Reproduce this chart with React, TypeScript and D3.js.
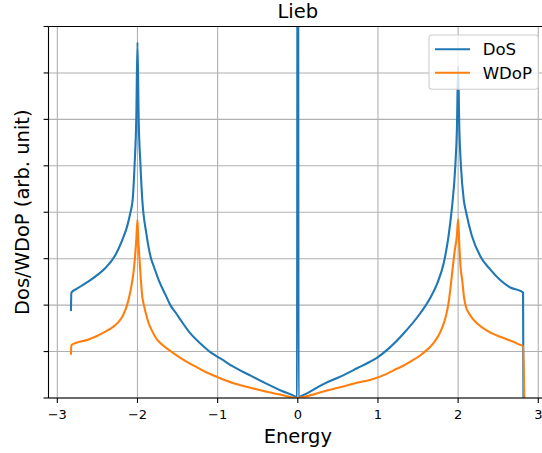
import React from "react";
import * as d3 from "d3";

// ---- data ----
const dosEnergy = [
  -2.83, -2.825, -2.75, -2.61, -2.5, -2.4, -2.275, -2.19, -2.13, -2.09, -2.06, -2.035, -2.015, -2.0,
  -1.985, -1.964, -1.94, -1.89, -1.83, -1.8, -1.735, -1.65, -1.59, -1.52, -1.45, -1.34, -1.2, -1.1, -1.03,
  -0.9, -0.82, -0.61, -0.405, -0.197, -0.03, -0.01, 0.0, 0.01, 0.03, 0.115, 0.32, 0.53, 0.74, 0.9, 1.0,
  1.11, 1.32, 1.53, 1.65, 1.74, 1.82, 1.88, 1.92, 1.965, 1.985, 2.0, 2.015, 2.035, 2.07, 2.1, 2.17,
  2.275, 2.4, 2.525, 2.65, 2.795, 2.81, 2.815,
];
const dosValue = [
  1.875, 2.27, 2.36, 2.51, 2.65, 2.8, 3.08, 3.4, 3.69, 3.98, 4.27, 5.06, 6.0, 7.66,
  6.0, 5.06, 4.27, 3.55, 3.0, 2.85, 2.54, 2.22, 2.0, 1.83, 1.65, 1.39, 1.15, 1.0, 0.92,
  0.78, 0.69, 0.5, 0.32, 0.15, 0.03, 0.01, 20, 0.01, 0.03, 0.1, 0.3, 0.46, 0.64, 0.78, 0.88,
  1.03, 1.39, 1.83, 2.15, 2.47, 2.9, 3.48, 4.05, 5.0, 5.8, 7.14, 5.8, 5.0, 4.27, 4.0, 3.5,
  3.06, 2.77, 2.54, 2.38, 2.29, 2.27, 0,
];
const wdopEnergy = [
  -2.83, -2.825, -2.61, -2.5, -2.4, -2.33, -2.275, -2.23, -2.19, -2.16, -2.13, -2.1, -2.07, -2.05,
  -2.03, -2.015, -2.0, -1.99, -1.975, -1.94, -1.92, -1.9, -1.86, -1.82, -1.76, -1.68, -1.57, -1.45,
  -1.28, -1.15, -1.0, -0.82, -0.61, -0.405, -0.197, 0.0, 0.115, 0.32, 0.53, 0.74, 0.9, 1.11, 1.2,
  1.32, 1.42, 1.53, 1.6, 1.65, 1.7, 1.74, 1.78, 1.82, 1.85, 1.88, 1.9, 1.92, 1.96, 1.985, 2.0, 2.015,
  2.03, 2.05, 2.075, 2.1, 2.13, 2.18, 2.235, 2.36, 2.45, 2.525, 2.6, 2.69, 2.75, 2.81, 2.825,
];
const wdopValue = [
  0.93, 1.14, 1.26, 1.34, 1.43, 1.5, 1.57, 1.65, 1.75, 1.86, 2.0, 2.2, 2.47, 2.7,
  3.05, 3.4, 3.84, 3.4, 3.0, 2.18, 2.0, 1.85, 1.61, 1.45, 1.27, 1.13, 0.99, 0.85,
  0.68, 0.56, 0.45, 0.33, 0.23, 0.14, 0.065, 0.0, 0.04, 0.14, 0.23, 0.33, 0.39, 0.52, 0.6,
  0.7, 0.8, 0.92, 1.02, 1.1, 1.2, 1.3, 1.43, 1.6, 1.78, 2.04, 2.3, 2.61, 3.2, 3.5, 3.85, 3.3,
  2.83, 2.55, 2.15, 1.95, 1.84, 1.71, 1.61, 1.45, 1.37, 1.32, 1.27, 1.21, 1.16, 1.12, 0,
];
const xTicks = [-3, -2, -1, 0, 1, 2, 3];
const yTicks = [0, 1, 2, 3, 4, 5, 6, 7, 8];
const seriesNames = ["DoS", "WDoP"];
const seriesColors = ["#1f77b4", "#ff7f0e"];
const titleText = "Lieb";
const xLabel = "Energy";
const yLabel = "Dos/WDoP (arb. unit)";

const W = 542;
const H = 453;
const left = 48.5;
const right = 547.1;
const top = 26.5;
const bottom = 398;
const font = "DejaVu Sans, sans-serif";

export default function App() {
  const x = d3.scaleLinear().domain([-3.11, 3.11]).range([left, right]);
  const y = d3.scaleLinear().domain([0, 8]).range([bottom, top]);
  const line = d3
    .line<[number, number]>()
    .x((d) => x(d[0]))
    .y((d) => y(d[1]))
    .curve(d3.curveMonotoneX);
  const dos: [number, number][] = dosEnergy.map((e, i) => [e, dosValue[i]]);
  const wdop: [number, number][] = wdopEnergy.map((e, i) => [e, wdopValue[i]]);
  const fmt = (v: number) => (v < 0 ? "\u2212" + Math.abs(v) : String(v));

  const legX = 429;
  const legY = 35;
  return (
    <>
      <style>{`body{margin:0}`}</style>
      <svg width={W} height={H} style={{ display: "block", background: "#fff" }} fontFamily={font}>
        <defs>
          <clipPath id="plotclip">
            <rect x={left} y={top} width={right - left} height={bottom - top} />
          </clipPath>
        </defs>
        {xTicks.map((t) => (
          <line key={"gx" + t} x1={x(t)} x2={x(t)} y1={top} y2={bottom} stroke="#b0b0b0" strokeWidth={1.1} />
        ))}
        {yTicks.map((t) => (
          <line key={"gy" + t} x1={left} x2={right} y1={y(t)} y2={y(t)} stroke="#b0b0b0" strokeWidth={1.1} />
        ))}
        <g clipPath="url(#plotclip)">
          <path d={line(dos) || ""} fill="none" stroke={seriesColors[0]} strokeWidth={2.1} strokeLinejoin="round" />
          <path d={line(wdop) || ""} fill="none" stroke={seriesColors[1]} strokeWidth={2.1} strokeLinejoin="round" />
        </g>
        <line x1={left} x2={left} y1={top} y2={bottom} stroke="#000" strokeWidth={1.1} />
        <line x1={left} x2={right} y1={bottom} y2={bottom} stroke="#000" strokeWidth={1.1} />
        <line x1={left} x2={right} y1={top} y2={top} stroke="#000" strokeWidth={1.1} />
        <line x1={right} x2={right} y1={top} y2={bottom} stroke="#000" strokeWidth={1.1} />
        {xTicks.map((t) => (
          <g key={"tx" + t}>
            <line x1={x(t)} x2={x(t)} y1={bottom} y2={bottom + 4.9} stroke="#000" strokeWidth={1.1} />
            <text x={x(t)} y={419.3} fontSize={13} textAnchor="middle" fill="#000">
              {fmt(t)}
            </text>
          </g>
        ))}
        {yTicks.map((t) => (
          <line key={"ty" + t} x1={left - 4.9} x2={left} y1={y(t)} y2={y(t)} stroke="#000" strokeWidth={1.1} />
        ))}
        <text x={(left + right) / 2} y={18} fontSize={19.5} textAnchor="middle" fill="#000">
          {titleText}
        </text>
        <text x={(left + right) / 2} y={442.5} fontSize={19.5} textAnchor="middle" fill="#000">
          {xLabel}
        </text>
        <text
          transform={`translate(29,${(top + bottom) / 2}) rotate(-90)`}
          fontSize={19.5}
          textAnchor="middle"
          fill="#000"
        >
          {yLabel}
        </text>
        <rect
          x={legX}
          y={legY}
          width={109.3}
          height={54.3}
          rx={3.3}
          fill="#fff"
          fillOpacity={0.8}
          stroke="#cccccc"
          strokeWidth={1.1}
        />
        {seriesNames.map((n, i) => (
          <g key={n}>
            <line
              x1={435}
              x2={470}
              y1={49.3 + i * 23.4}
              y2={49.3 + i * 23.4}
              stroke={seriesColors[i]}
              strokeWidth={2.1}
            />
            <text x={482.7} y={55 + i * 24.3} fontSize={16.6} fill="#000">
              {n}
            </text>
          </g>
        ))}
      </svg>
    </>
  );
}
